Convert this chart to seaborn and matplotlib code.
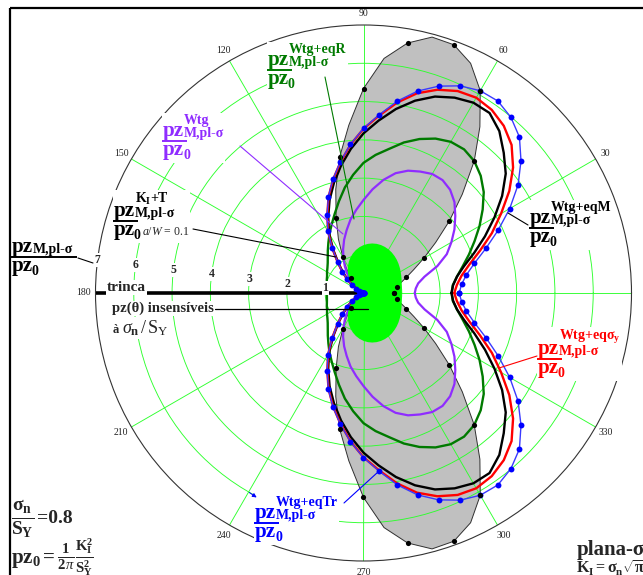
import numpy as np
import matplotlib
matplotlib.use("Agg")
import matplotlib.pyplot as plt
from matplotlib.patches import Rectangle
from matplotlib.transforms import Bbox
import seaborn as sns

# Polar angle (degrees) for the upper half; curves are symmetric about the crack plane
theta_deg = np.arange(0, 181, 5)

# pz(theta)/pz0 for each plastic-zone estimate
r_ki_mises = [1.000, 1.004, 1.015, 1.033, 1.058, 1.087, 1.121, 1.156, 1.193, 1.229,
              1.261, 1.290, 1.313, 1.327, 1.333, 1.329, 1.314, 1.288, 1.250, 1.201,
              1.141, 1.070, 0.991, 0.905, 0.813, 0.717, 0.619, 0.522, 0.427, 0.337,
              0.254, 0.181, 0.118, 0.067, 0.030, 0.008, 0.000]
r_ki_t = [0.80, 0.82, 0.88, 1.00, 1.19, 1.45, 1.82, 2.30, 2.93, 3.65,
          4.50, 5.30, 6.10, 6.62, 6.90, 6.92, 6.63, 6.15, 5.34, 4.40,
          3.60, 2.80, 2.09, 1.55, 1.08, 0.78, 0.51, 0.35, 0.22, 0.14,
          0.08, 0.04, 0.02, 0.00, 0.00, 0.00, 0.00]
r_wtg = [1.34, 1.37, 1.45, 1.65, 2.05, 2.40, 2.65, 2.90, 3.13, 3.36,
         3.52, 3.60, 3.59, 3.50, 3.40, 3.24, 3.00, 2.72, 2.43, 2.18,
         1.95, 1.70, 1.48, 1.26, 1.05, 0.85, 0.66, 0.48, 0.33, 0.20,
         0.10, 0.05, 0.02, 0.00, 0.00, 0.00, 0.00]
r_wtg_eqR = [2.30, 2.34, 2.48, 2.68, 2.93, 3.20, 3.50, 3.80, 4.10, 4.33,
             4.50, 4.58, 4.56, 4.45, 4.28, 4.07, 3.82, 3.62, 3.40, 3.10,
             2.80, 2.48, 2.20, 1.97, 1.78, 1.60, 1.45, 1.32, 1.22, 1.15,
             1.10, 1.05, 1.02, 0.99, 0.97, 0.96, 0.96]
r_wtg_eqM = [2.30, 2.35, 2.48, 2.72, 3.08, 3.50, 3.95, 4.42, 4.85, 5.18,
             5.52, 5.74, 5.74, 5.63, 5.46, 5.20, 4.88, 4.52, 4.17, 3.78,
             3.38, 2.98, 2.59, 2.18, 1.80, 1.38, 1.02, 0.76, 0.53, 0.35,
             0.21, 0.11, 0.05, 0.02, 0.00, 0.00, 0.00]
r_wtg_eqSy = [2.37, 2.45, 2.60, 2.86, 3.24, 3.70, 4.15, 4.65, 5.10, 5.47,
              5.70, 5.84, 5.89, 5.82, 5.65, 5.40, 5.05, 4.65, 4.29, 3.89,
              3.47, 3.07, 2.67, 2.24, 1.85, 1.42, 1.05, 0.78, 0.55, 0.36,
              0.22, 0.12, 0.06, 0.03, 0.01, 0.00, 0.00]
r_wtg_eqTr = [2.50, 2.57, 2.73, 3.00, 3.40, 3.88, 4.41, 4.93, 5.37, 5.76,
              5.99, 6.12, 6.10, 5.97, 5.75, 5.46, 5.09, 4.67, 4.30, 3.90,
              3.48, 3.08, 2.68, 2.25, 1.86, 1.42, 1.05, 0.78, 0.55, 0.36,
              0.22, 0.12, 0.06, 0.03, 0.01, 0.00, 0.00]

# Marked angles on the KI+T (a/W = 0.1) boundary
ki_t_marked_deg = np.arange(0, 131, 10)

angle_labels = [30, 60, 90, 120, 150, 180, 210, 240, 270, 300, 330]
ring_labels = [1, 2, 3, 4, 5, 6, 7]

C_PURPLE = "#8F2CFF"
C_DKGREEN = "#007A00"
C_RED = "#FF0000"
C_BLUE = "#0000FF"
C_LIME = "#00FF00"
C_GRID = "#2EFF2E"


def closed(theta, r):
    """Mirror an upper-half curve about the crack plane and return radians."""
    theta = np.asarray(theta, float)
    r = np.asarray(r, float)
    th = np.concatenate([theta, 360.0 - theta[::-1]])
    rr = np.concatenate([r, r[::-1]])
    return np.deg2rad(th), rr


sns.set_style("white")
plt.rcParams["font.family"] = ["Liberation Serif", "DejaVu Serif"]
plt.rcParams["mathtext.fontset"] = "custom"
plt.rcParams["mathtext.rm"] = "Liberation Serif"
plt.rcParams["mathtext.bf"] = "Liberation Serif:bold"
plt.rcParams["mathtext.it"] = "Liberation Serif:italic"
plt.rcParams["mathtext.sf"] = "Liberation Serif"

W, H = 643, 575
fig = plt.figure(figsize=(W / 100, H / 100), dpi=100)
fig.patch.set_facecolor("white")

R_PX = 268.0
CX, CY = 363.5, 293.0
ax = fig.add_axes([(CX - R_PX) / W, (H - CY - R_PX) / H, 2 * R_PX / W, 2 * R_PX / H],
                  projection="polar")

# --- shaded KI+T zone
th, rr = closed(theta_deg, r_ki_t)
ax.fill(th, rr, color="#C0C0C0", zorder=0.2, linewidth=0)
sns.lineplot(x=th, y=rr, ax=ax, sort=False, estimator=None, color="#303030",
             linewidth=0.7, zorder=0.6)

# --- Wtg (under the LEFM zone)
th, rr = closed(theta_deg, r_wtg)
sns.lineplot(x=th, y=rr, ax=ax, sort=False, estimator=None, color=C_PURPLE,
             linewidth=1.6, zorder=2)

# --- LEFM Mises zone, insensitive to sigma_n/S_Y
th, rr = closed(theta_deg, r_ki_mises)
ax.fill(th, rr, color=C_LIME, zorder=2.5, linewidth=0)

# --- Wtg + equivalent stress criteria
for r_vals, col in [(r_wtg_eqR, C_DKGREEN), (r_wtg_eqM, "black"), (r_wtg_eqSy, C_RED)]:
    th, rr = closed(theta_deg, r_vals)
    sns.lineplot(x=th, y=rr, ax=ax, sort=False, estimator=None, color=col,
                 linewidth=1.7, zorder=3)

# crack flank
ax.plot([np.pi, np.pi], [7, 0], color="black", linewidth=2.6, zorder=3.5,
        solid_capstyle="butt")

th, rr = closed(theta_deg, r_wtg_eqTr)
sns.lineplot(x=th, y=rr, ax=ax, sort=False, estimator=None, color="#3A3AFF",
             linewidth=1.0, zorder=4)
sns.scatterplot(x=th, y=rr, ax=ax, color=C_BLUE, s=18, linewidth=0, zorder=4.5)

idx = np.searchsorted(theta_deg, ki_t_marked_deg)
th, rr = closed(ki_t_marked_deg, np.asarray(r_ki_t)[idx])
sns.scatterplot(x=th, y=rr, ax=ax, color="black", s=14, linewidth=0, zorder=5)

# --- polar frame and grid
ax.set_ylim(0, 7)
ax.set_thetagrids(np.arange(0, 360, 30), labels=[""] * 12)
ax.set_rgrids([1, 2, 3, 4, 5, 6], labels=[""] * 6)
ax.set_axisbelow(True)
ax.grid(True, color=C_GRID, linewidth=0.65)
ax.spines["polar"].set_color("#333333")
ax.spines["polar"].set_linewidth(0.8)
ax.set_xlabel("")
ax.set_ylabel("")
ax.tick_params(pad=0)

for a in angle_labels:
    ax.text(np.deg2rad(a), 7.31, str(a), ha="center", va="center", fontsize=7,
            color="#222222", clip_on=False)

# --- overlay in pixel coordinates for annotations
ov = fig.add_axes([0, 0, 1, 1], zorder=5)
ov.set_xlim(0, W)
ov.set_ylim(H, 0)
ov.axis("off")
ov.patch.set_alpha(0)

groups = []

ring_txt = []
for k in ring_labels:
    ang = np.deg2rad(173.0)
    x = CX + k * 38.3 * np.cos(ang)
    y = CY - k * 38.3 * np.sin(ang)
    ring_txt.append(ov.text(x, y, str(k), ha="center", va="center", fontsize=8.5,
                            fontweight="bold"))
groups.extend([[t] for t in ring_txt])


def frac_label(x, ybar, sup, sub, color, bar_to=None, fs=15, ss=10, sup_dy=17):
    kw = dict(color=color, fontweight="bold", va="baseline", ha="left")
    w = 21
    items = []
    items.append(ov.text(x, ybar + 14, "pz", fontsize=fs, **kw))
    items.append(ov.text(x + w - 1, ybar + 18, "0", fontsize=ss, **kw))
    items.append(ov.text(x + w, ybar - 4, sub, fontsize=ss, **kw))
    if sup:
        items.append(ov.text(x + w, ybar - sup_dy, sup, fontsize=ss, **kw))
    items.append(ov.text(x, ybar - 5, "pz", fontsize=fs, **kw))
    ov.plot([x - 1, bar_to if bar_to else x + w + 3], [ybar, ybar], color=color,
            linewidth=1.4, solid_capstyle="butt", zorder=6)
    return items


def leader(p0, p1, color, lw=0.8):
    ov.plot([p0[0], p1[0]], [p0[1], p1[1]], color=color, linewidth=lw, zorder=2)


# left: radial axis quantity
groups.append(frac_label(12, 257, None, "M,pl-σ", "black", bar_to=77))
leader((78, 258), (93, 263), "black")

# KI+T
g = frac_label(114, 221, r"$\mathbf{K_I{+}T}$", "M,pl-σ", "black", sup_dy=18)
g.append(ov.text(142, 235, r"$a/W$ = 0.1", fontsize=8.5, va="baseline", ha="left"))
groups.append(g)
leader((193, 229), (336, 257), "black")

# Wtg
groups.append(frac_label(163, 141, "Wtg", "M,pl-σ", C_PURPLE))
leader((240, 146), (343, 234), C_PURPLE)

# Wtg+eqR
groups.append(frac_label(268, 70, "Wtg+eqR", "M,pl-σ", C_DKGREEN))
leader((325, 77), (354, 219), C_DKGREEN)

# Wtg+eqM
groups.append(frac_label(530, 228, "Wtg+eqM", "M,pl-σ", "black"))
leader((508, 213), (528, 225), "black")

# Wtg+eqSy
groups.append(frac_label(538, 359, r"$\mathbf{Wtg{+}eq\sigma_y}$", "M,pl-σ", C_RED,
                         sup_dy=19))
leader((499, 368), (537, 356), C_RED)

# Wtg+eqTr
groups.append(frac_label(255, 523, "Wtg+eqTr", "M,pl-σ", C_BLUE))
leader((344, 503), (378, 472), C_BLUE)
ov.annotate("", xy=(259, 499), xytext=(247, 491),
            arrowprops=dict(arrowstyle="-|>", color=C_BLUE, lw=0.7,
                            mutation_scale=6))

# crack labels
groups.append([ov.text(107, 291, "trinca", fontsize=11, fontweight="bold",
                       va="baseline", ha="left")])
t_ins = ov.text(112, 312, "pz(θ) insensíveis", fontsize=10.5, fontweight="bold",
                va="baseline", ha="left")
groups.append([t_ins])
ov.plot([215, 368], [309, 309], color="black", linewidth=0.9, zorder=2)
g = [ov.text(113, 333, "à", fontsize=9, fontweight="bold", va="baseline", ha="left"),
     ov.text(122, 333, r"$\sigma_\mathbf{n}\,/\,\mathrm{S_Y}$", fontsize=13,
             va="baseline", ha="left")]
groups.append(g)

# loading parameters
ov.text(11, 519, r"$\frac{\mathbf{\sigma_n}}{\mathbf{S_Y}}$", fontsize=20,
        va="center", ha="left")
ov.text(37, 523, "=0.8", fontsize=14, fontweight="bold", va="baseline", ha="left")
ov.text(11, 557, r"$\mathbf{pz_0}\mathbf{=}\frac{\mathbf{1}}{\mathbf{2}\pi}"
        r"\frac{\mathbf{K_I^2}}{\mathbf{S_Y^2}}$", fontsize=15, va="center", ha="left")

ov.text(577, 555, "plana-σ", fontsize=15, fontweight="bold", va="baseline", ha="left")
ov.text(576, 574, r"$\mathbf{K_I=\sigma_n\sqrt{\pi a}}$", fontsize=11.5,
        va="baseline", ha="left")

# figure frame
ov.plot([10, 10], [8, H], color="black", linewidth=1.6, solid_capstyle="butt")
ov.plot([10, W], [8, 8], color="black", linewidth=1.6, solid_capstyle="butt")

# white backdrops behind text blocks lying over the grid
fig.canvas.draw()
rend = fig.canvas.get_renderer()
inv = ov.transData.inverted()
for grp in groups:
    ext = Bbox.union([t.get_window_extent(rend) for t in grp])
    (x0, y0), (x1, y1) = inv.transform([[ext.x0, ext.y0], [ext.x1, ext.y1]])
    ov.add_patch(Rectangle((min(x0, x1) - 1, min(y0, y1) - 1), abs(x1 - x0) + 2,
                           abs(y1 - y0) + 2, facecolor="white", edgecolor="none",
                           zorder=0.5))

fig.savefig("out.png", dpi=100)
